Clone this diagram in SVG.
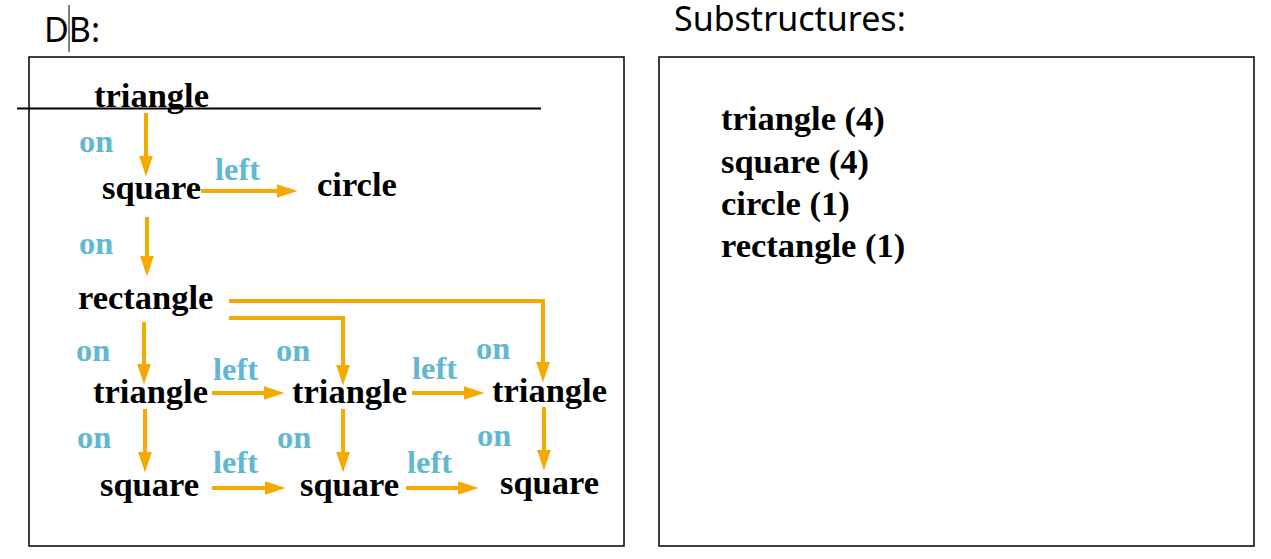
<svg xmlns="http://www.w3.org/2000/svg" width="1271" height="559" viewBox="0 0 1271 559">
<style>
.node{font-family:"Liberation Serif","Times New Roman",serif;font-weight:bold;font-size:34.5px;fill:#000}
.lbl{font-family:"Liberation Serif","Times New Roman",serif;font-weight:bold;font-size:32.5px;fill:#62B7D2}
.hdr{font-family:"Noto Sans","Open Sans",sans-serif;font-size:34px;fill:#000}
.box{fill:none;stroke:#000;stroke-width:1.5}
.edge{fill:none;stroke:#F4AA00;stroke-width:4;marker-end:url(#ah)}
</style>
<defs>
<marker id="ah" markerUnits="strokeWidth" markerWidth="6" markerHeight="4" refX="2.6" refY="1.75" orient="auto">
<path d="M0,0 L5.25,1.75 L0,3.5 z" fill="#F4AA00"/>
</marker>
</defs>
<rect width="1271" height="559" fill="#fff"/>
<g id="headers">
<text class="hdr" x="44" y="42">DB:</text>
<line x1="69" y1="5" x2="69" y2="52" stroke="#000" stroke-width="1"/>
<text class="hdr" x="674" y="31">Substructures:</text>
</g>
<g id="panels">
<rect class="box" x="29" y="57" width="595" height="489"/>
<rect class="box" x="659" y="57" width="595" height="489"/>
<line x1="17" y1="108.5" x2="541" y2="108.5" stroke="#000" stroke-width="2"/>
</g>
<g id="connectors">
<line class="edge" x1="146" y1="113" x2="146" y2="166"/>
<line class="edge" x1="201" y1="191" x2="287" y2="191"/>
<line class="edge" x1="147" y1="217" x2="147" y2="266"/>
<polyline class="edge" points="229,301 543,301 543,372"/>
<polyline class="edge" points="229,318 343,318 343,375"/>
<line class="edge" x1="144" y1="322" x2="144" y2="374"/>
<line class="edge" x1="212" y1="393" x2="274" y2="393"/>
<line class="edge" x1="412" y1="393" x2="474" y2="393"/>
<line class="edge" x1="145" y1="409" x2="145" y2="462"/>
<line class="edge" x1="343" y1="409" x2="343" y2="462"/>
<line class="edge" x1="544" y1="407" x2="544" y2="460"/>
<line class="edge" x1="212" y1="488" x2="275" y2="488"/>
<line class="edge" x1="406" y1="488" x2="468" y2="488"/>
</g>
<g id="edge-labels">
<text class="lbl" x="79" y="152">on</text>
<text class="lbl" x="215" y="180">left</text>
<text class="lbl" x="79" y="254">on</text>
<text class="lbl" x="76" y="361">on</text>
<text class="lbl" x="213" y="380">left</text>
<text class="lbl" x="276" y="361">on</text>
<text class="lbl" x="412" y="379">left</text>
<text class="lbl" x="476" y="359">on</text>
<text class="lbl" x="77" y="448">on</text>
<text class="lbl" x="277" y="448">on</text>
<text class="lbl" x="213" y="473">left</text>
<text class="lbl" x="407" y="473">left</text>
<text class="lbl" x="477" y="446">on</text>
</g>
<g id="n-triangle-top"><text class="node" x="94" y="107">triangle</text></g>
<g id="n-square-1"><text class="node" x="102" y="199">square</text></g>
<g id="n-circle"><text class="node" x="317" y="196">circle</text></g>
<g id="n-rectangle"><text class="node" x="78" y="309">rectangle</text></g>
<g id="n-triangle-a"><text class="node" x="93" y="403">triangle</text></g>
<g id="n-triangle-b"><text class="node" x="292" y="403">triangle</text></g>
<g id="n-triangle-c"><text class="node" x="492" y="402">triangle</text></g>
<g id="n-square-a"><text class="node" x="100" y="496">square</text></g>
<g id="n-square-b"><text class="node" x="300" y="496">square</text></g>
<g id="n-square-c"><text class="node" x="500" y="494">square</text></g>
<g id="substructures">
<text class="node" x="721" y="130">triangle (4)</text>
<text class="node" x="721" y="173">square (4)</text>
<text class="node" x="721" y="215">circle (1)</text>
<text class="node" x="721" y="257">rectangle (1)</text>
</g>
</svg>
